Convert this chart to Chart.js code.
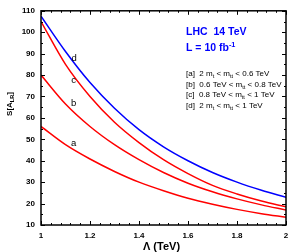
<!DOCTYPE html>
<html>
<head>
<meta charset="utf-8">
<script src="https://cdn.jsdelivr.net/npm/chart.js@4.4.0/dist/chart.umd.min.js"></script>
<style>
    html, body { margin: 0; padding: 0; background: #fff; }
    #wrap { width: 301px; height: 252px; }
</style>
</head>
<body>
<div id="wrap"><canvas id="grafico" width="301" height="252"></canvas></div>
<script>
// Valores (Lambda em TeV)
const lambdaVals = [1.0, 1.1, 1.2, 1.3, 1.4, 1.5, 1.6, 1.7, 1.8, 1.9, 2.0];
const curvaA = [56.0, 47.5, 40.8, 35.0, 30.0, 26.0, 22.5, 19.7, 17.3, 15.3, 13.6];
const curvaB = [80.0, 66.5, 56.0, 47.5, 40.5, 34.5, 29.5, 25.5, 22.2, 19.4, 17.0];
const curvaC = [105.0, 85.0, 70.0, 58.0, 48.5, 40.5, 34.0, 28.5, 24.5, 21.2, 18.5];
const curvaD = [107.5, 91.0, 76.5, 64.5, 54.5, 46.5, 40.0, 34.5, 30.0, 26.2, 22.9];

const xTicks = [1, 1.2, 1.4, 1.6, 1.8, 2];
const yTicks = [10, 20, 30, 40, 50, 60, 70, 80, 90, 100, 110];

// rótulos das curvas (posição em coordenadas de dados)
const rotulosCurvas = [
    { txt: 'a', x: 1.133, y: 48 },
    { txt: 'b', x: 1.133, y: 67 },
    { txt: 'c', x: 1.133, y: 77.4 },
    { txt: 'd', x: 1.135, y: 88 }
];

const legendaLinhas = [
    [['[a]  2 m'], ['t', 'sub'], [' < m'], ['tt', 'sub'], [' < 0.6 TeV']],
    [['[b]  0.6 TeV < m'], ['tt', 'sub'], [' < 0.8 TeV']],
    [['[c]  0.8 TeV < m'], ['tt', 'sub'], [' < 1 TeV']],
    [['[d]  2 m'], ['t', 'sub'], [' < m'], ['tt', 'sub'], [' < 1 TeV']]
];

const FONTE = '"Liberation Sans", Arial, sans-serif';

// desenha texto com sub/sobrescritos
function textoRico(ctx, partes, x, y, tam, peso) {
    let cx = x;
    partes.forEach(p => {
        const [t, modo] = p;
        let s = tam, dy = 0;
        if (modo === 'sub') { s = tam * 0.7; dy = tam * 0.28; }
        if (modo === 'sup') { s = tam * 0.7; dy = -tam * 0.42; }
        ctx.font = `${peso} ${s}px ${FONTE}`;
        ctx.fillText(t, cx, y + dy);
        cx += ctx.measureText(t).width;
    });
    return cx;
}

const molduraPlugin = {
    id: 'moldura',
    afterDatasetsDraw(chart) {
        const { ctx, chartArea: a, scales: { x, y } } = chart;
        ctx.save();
        ctx.strokeStyle = '#000';
        ctx.lineWidth = 1.5;
        ctx.strokeRect(a.left, a.top, a.right - a.left, a.bottom - a.top);

        // marcas para dentro, nos quatro lados
        ctx.lineWidth = 1;
        ctx.beginPath();
        for (let v = 10; v <= 110; v += 5) {
            const py = Math.round(y.getPixelForValue(v)) + 0.5;
            const len = (v % 10 === 0) ? 4 : 2;
            ctx.moveTo(a.left, py); ctx.lineTo(a.left + len, py);
            ctx.moveTo(a.right, py); ctx.lineTo(a.right - len, py);
        }
        for (let i = 0; i <= 25; i++) {
            const v = 1 + i * 0.04;
            const px = Math.round(x.getPixelForValue(v)) + 0.5;
            const len = (i % 5 === 0) ? 4 : 2;
            ctx.moveTo(px, a.bottom); ctx.lineTo(px, a.bottom - len);
            ctx.moveTo(px, a.top); ctx.lineTo(px, a.top + len);
        }
        ctx.stroke();

        // rótulos das curvas
        ctx.fillStyle = '#000';
        ctx.textAlign = 'center';
        ctx.textBaseline = 'middle';
        ctx.font = `normal 9.5px ${FONTE}`;
        rotulosCurvas.forEach(r => {
            ctx.fillText(r.txt, x.getPixelForValue(r.x), y.getPixelForValue(r.y));
        });

        // título dentro do gráfico
        ctx.textAlign = 'left';
        ctx.textBaseline = 'alphabetic';
        ctx.fillStyle = '#0000ff';
        ctx.font = `bold 10.5px ${FONTE}`;
        ctx.fillText('LHC  14 TeV', 186, 35);
        textoRico(ctx, [['L = 10 fb'], ['-1', 'sup']], 186, 51, 10.5, 'bold');

        // legenda dos intervalos
        ctx.fillStyle = '#000';
        legendaLinhas.forEach((linha, i) => {
            textoRico(ctx, linha, 186, 76 + i * 10.5, 8, 'normal');
        });

        // títulos dos eixos
        ctx.font = `bold 11px ${FONTE}`;
        ctx.textAlign = 'center';
        ctx.fillText('\u039B (TeV)', (a.left + a.right) / 2 - 2, 250);

        ctx.translate(12, 104);
        ctx.rotate(-Math.PI / 2);
        ctx.font = `bold 8px ${FONTE}`;
        const w1 = ctx.measureText('S[A').width;
        ctx.font = `bold 5.6px ${FONTE}`;
        const w2 = ctx.measureText('LR').width;
        ctx.font = `bold 8px ${FONTE}`;
        const w3 = ctx.measureText(']').width;
        ctx.textAlign = 'left';
        textoRico(ctx, [['S[A'], ['LR', 'sub'], [']']], -(w1 + w2 + w3) / 2, 0, 8, 'bold');
        ctx.restore();
    }
};

const conjuntos = [
    { label: 'a', data: curvaA, borderColor: '#ff0000' },
    { label: 'b', data: curvaB, borderColor: '#ff0000' },
    { label: 'c', data: curvaC, borderColor: '#ff0000' },
    { label: 'd', data: curvaD, borderColor: '#0000ff' }
].map(d => ({
    ...d,
    data: d.data.map((v, i) => ({ x: lambdaVals[i], y: v })),
    borderWidth: 1.5,
    pointRadius: 0,
    fill: false,
    cubicInterpolationMode: 'monotone'
}));

new Chart(document.getElementById('grafico').getContext('2d'), {
    type: 'line',
    data: { datasets: conjuntos },
    options: {
        responsive: false,
        animation: false,
        layout: { padding: { top: 10, right: 15, bottom: 0, left: 0 } },
        plugins: { legend: { display: false }, tooltip: { enabled: false } },
        scales: {
            x: {
                type: 'linear',
                min: 1, max: 2,
                grid: { display: false, drawTicks: false, tickLength: 0 },
                border: { display: false },
                afterBuildTicks: s => { s.ticks = xTicks.map(v => ({ value: v })); },
                afterFit: s => { s.height = 27; },
                ticks: {
                    padding: 6,
                    color: '#000',
                    font: { family: FONTE, size: 8, weight: 'bold' },
                    callback: v => String(v)
                }
            },
            y: {
                min: 10, max: 110,
                grid: { display: false, drawTicks: false, tickLength: 0 },
                border: { display: false },
                afterBuildTicks: s => { s.ticks = yTicks.map(v => ({ value: v })); },
                afterFit: s => { s.width = 41; },
                ticks: {
                    padding: 6,
                    color: '#000',
                    font: { family: FONTE, size: 8, weight: 'bold' }
                }
            }
        }
    },
    plugins: [molduraPlugin]
});
</script>
</body>
</html>
